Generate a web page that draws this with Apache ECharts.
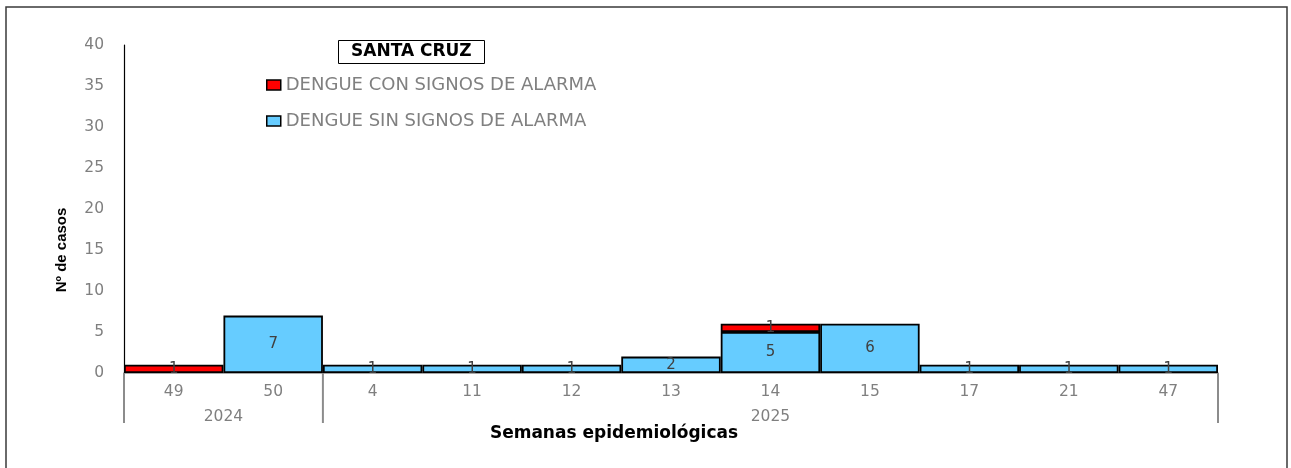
<!DOCTYPE html>
<html>
<head>
<meta charset="utf-8">
<script src="https://cdn.jsdelivr.net/npm/echarts@6/dist/echarts.min.js"></script>
<style>
html,body{margin:0;padding:0;background:#fff;}
#chart{width:1291px;height:468px;}
</style>
</head>
<body>
<div id="chart"></div>
<script>
const categories = ['49','50','4','11','12','13','14','15','17','21','47'];
const conSignos = [1,0,0,0,0,0,1,0,0,0,0];
const sinSignos = [0,7,1,1,1,2,5,6,1,1,1];
const yearGroups = [
  {label:'2024', from:0, to:1},
  {label:'2025', from:2, to:10}
];
const yMin = 0, yMax = 40, yStep = 5;
const titleText = 'SANTA CRUZ';
const seriesNames = ['DENGUE CON SIGNOS DE ALARMA','DENGUE SIN SIGNOS DE ALARMA'];
const xName = 'Semanas epidemiológicas';
const yName = 'Nº de casos';

const toData = arr => arr.map(v => v === 0 ? null : v);
const chart = echarts.init(document.getElementById('chart'), null, {renderer:'canvas'});
const F = 'DejaVu Sans';
const labelCfg = {
  show:true, position:'inside', color:'#404040', fontFamily:F, fontSize:15,
  formatter: p => (p.value ? String(p.value) : '')
};
const option = {
  animation:false,
  backgroundColor:'#fff',
  title:{
    text:titleText, left:338, top:40,
    borderColor:'#000', borderWidth:1, padding:[3,13,3,13],
    textStyle:{fontFamily:F, fontWeight:'bold', fontSize:17, color:'#000', lineHeight:18}
  },
  legend:{
    data:seriesNames, orient:'vertical', left:261, top:69, itemGap:14,
    itemWidth:14, itemHeight:10, icon:'rect', itemStyle:{borderWidth:1.5},
    textStyle:{fontFamily:F, fontSize:18, color:'#808080', lineHeight:22, padding:[0,0,0,0]}
  },
  grid:{left:124, right:73, top:45, bottom:95, containLabel:false},
  xAxis:{
    type:'category', data:categories,
    axisLine:{show:true, lineStyle:{color:'#8c8c8c', width:1.5}},
    axisTick:{show:false},
    axisLabel:{color:'#7f7f7f', fontFamily:F, fontSize:15.5, margin:11}
  },
  yAxis:{
    type:'value', min:yMin, max:yMax, interval:yStep,
    axisLine:{show:true, lineStyle:{color:'#000', width:1.2}},
    axisTick:{show:false},
    splitLine:{show:false},
    axisLabel:{color:'#7f7f7f', fontFamily:F, fontSize:15.5, margin:20}
  },
  series:[
    {
      name:seriesNames[1], type:'bar', stack:'t', data:toData(sinSignos),
      barCategoryGap:'0%',
      itemStyle:{color:'#66CCFF', borderColor:'#000', borderWidth:1.8},
      label:labelCfg
    },
    {
      name:seriesNames[0], type:'bar', stack:'t', data:toData(conSignos),
      barCategoryGap:'0%',
      itemStyle:{color:'#FF0000', borderColor:'#000', borderWidth:1.8},
      label:labelCfg
    }
  ]
};
chart.setOption(option);

// Build year group labels and separators from the axis scale
const c0 = chart.convertToPixel({xAxisIndex:0}, 0);
const c1 = chart.convertToPixel({xAxisIndex:0}, 1);
const bw = c1 - c0;
const y0 = chart.convertToPixel({yAxisIndex:0}, 0);
const gfx = [];
// outer frame
gfx.push({type:'rect', shape:{x:6, y:7, width:1281, height:470}, style:{fill:null, stroke:'#3a3a3a', lineWidth:1.5}, z:0, silent:true});
const bounds = new Set();
yearGroups.forEach(g => {
  const left = chart.convertToPixel({xAxisIndex:0}, g.from) - bw/2;
  const right = chart.convertToPixel({xAxisIndex:0}, g.to) + bw/2;
  bounds.add(Math.round(left*10)/10); bounds.add(Math.round(right*10)/10);
  gfx.push({type:'text', x:(left+right)/2, y:y0+44, style:{text:g.label, fill:'#7f7f7f', font:'15.5px "DejaVu Sans"', textAlign:'center', textVerticalAlign:'middle'}, z:10});
});
bounds.forEach(x => {
  gfx.push({type:'line', shape:{x1:x, y1:y0, x2:x, y2:y0+50}, style:{stroke:'#8c8c8c', lineWidth:2}, z:10});
});
gfx.push({type:'text', x:614, y:y0+61, style:{text:xName, fill:'#000', font:'bold 17px "DejaVu Sans"', textAlign:'center', textVerticalAlign:'middle'}, z:10});
gfx.push({type:'text', x:62, y:250, rotation:Math.PI/2, style:{text:yName, fill:'#000', font:'bold 15px "Liberation Sans"', textAlign:'center', textVerticalAlign:'middle'}, z:10});
chart.setOption({graphic:gfx});
</script>
</body>
</html>
